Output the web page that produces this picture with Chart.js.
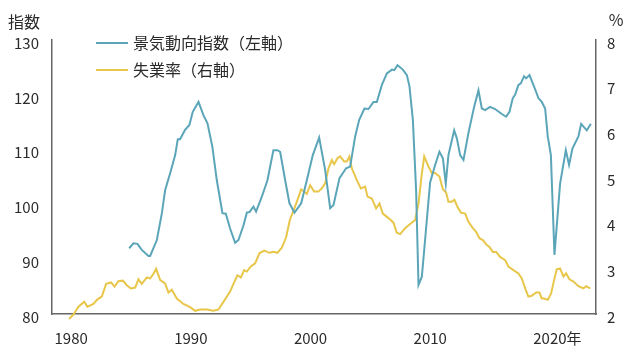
<!DOCTYPE html>
<html>
<head>
<meta charset="utf-8">
<script src="https://cdn.jsdelivr.net/npm/chart.js@4.4.0/dist/chart.umd.min.js"></script>
<style>
html,body{margin:0;padding:0;background:#fff;}
canvas{display:block;}
</style>
</head>
<body>
<canvas id="c" width="634" height="362"></canvas>
<script>
// ---- data ----
const ciYears = [1984.85,1985.2,1985.54,1985.9,1986.46,1986.6,1987.16,1987.58,1987.85,1988.27,1988.69,1988.91,1989.1,1989.52,1989.88,1990.16,1990.64,1991.05,1991.39,1991.8,1992.17,1992.64,1992.92,1993.28,1993.7,1993.98,1994.4,1994.68,1994.9,1995.23,1995.45,1995.93,1996.4,1996.9,1997.23,1997.46,1997.88,1998.24,1998.66,1999.22,1999.69,2000.19,2000.72,2001.22,2001.64,2001.92,2002.42,2002.97,2003.31,2003.73,2004.06,2004.5,2004.84,2005.26,2005.54,2005.96,2006.38,2006.8,2006.99,2007.27,2007.71,2008.05,2008.27,2008.55,2008.82,2009.02,2009.3,2009.57,2009.99,2010.41,2010.77,2011.06,2011.3,2011.52,2012.0,2012.22,2012.5,2012.78,2013.19,2013.67,2014.03,2014.31,2014.59,2015.0,2015.42,2015.98,2016.34,2016.62,2016.9,2017.09,2017.37,2017.57,2017.84,2018.01,2018.29,2018.62,2019.04,2019.32,2019.6,2019.82,2020.08,2020.38,2020.85,2021.33,2021.6,2021.88,2022.38,2022.61,2023.08,2023.42];
const ciValues = [92.0,92.9,92.8,91.7,90.6,90.6,93.5,98.4,102.6,105.7,109.0,111.9,111.9,113.6,114.5,116.9,118.7,116.3,114.8,110.5,104.4,98.4,98.3,95.6,93.0,93.5,96.2,98.5,98.6,99.6,98.7,101.4,104.4,109.9,109.9,109.6,104.4,100.2,98.5,100.2,104.4,109.0,112.2,106.3,99.3,99.9,104.8,106.6,106.9,112.4,115.4,117.5,117.4,118.7,118.7,121.8,123.9,124.6,124.5,125.4,124.6,123.6,121.5,115.4,102.6,85.3,86.8,93.5,104.0,107.2,109.6,108.4,103.8,109.0,113.5,112.1,109.0,108.1,113.0,117.8,120.8,117.5,117.2,117.8,117.4,116.5,116.0,116.9,119.4,120.0,121.8,122.1,123.4,123.0,123.6,121.8,119.4,118.7,117.5,112.4,109.0,90.8,103.8,109.9,107.2,110.2,112.4,114.7,113.5,114.7];

const urYears = [1979.83,1980.2,1980.61,1981.09,1981.36,1981.86,1982.2,1982.56,1982.92,1983.34,1983.62,1983.95,1984.32,1984.65,1984.99,1985.35,1985.62,1985.9,1986.32,1986.6,1986.88,1987.1,1987.44,1987.85,1988.13,1988.41,1988.83,1989.38,1989.94,1990.36,1990.78,1991.34,1991.89,1992.31,1992.73,1993.28,1993.7,1993.9,1994.18,1994.45,1994.68,1995.01,1995.37,1995.73,1996.12,1996.57,1996.9,1997.23,1997.6,1997.96,1998.27,1998.6,1998.91,1999.22,1999.69,1999.97,2000.3,2000.66,2000.94,2001.22,2001.5,2001.78,2001.97,2002.25,2002.47,2002.81,2003.03,2003.25,2003.45,2003.87,2004.2,2004.56,2004.76,2005.12,2005.48,2005.76,2006.04,2006.51,2006.93,2007.21,2007.49,2007.9,2008.32,2008.74,2009.02,2009.3,2009.5,2009.85,2010.13,2010.41,2010.77,2011.06,2011.33,2011.52,2011.8,2012.02,2012.27,2012.56,2012.92,2013.19,2013.56,2013.83,2014.11,2014.39,2014.73,2014.95,2015.23,2015.51,2015.84,2016.26,2016.53,2016.95,2017.37,2017.65,2017.93,2018.2,2018.48,2018.85,2019.12,2019.32,2019.52,2019.82,2020.1,2020.38,2020.57,2020.85,2021.13,2021.35,2021.63,2021.97,2022.38,2022.8,2023.02,2023.36];
const urValues = [1.89,1.99,2.16,2.27,2.16,2.22,2.32,2.38,2.66,2.69,2.60,2.72,2.73,2.63,2.56,2.58,2.76,2.66,2.80,2.78,2.88,2.99,2.74,2.67,2.47,2.53,2.34,2.22,2.15,2.07,2.10,2.10,2.07,2.10,2.27,2.49,2.74,2.85,2.80,2.96,2.93,3.04,3.11,3.33,3.39,3.34,3.36,3.34,3.45,3.68,4.06,4.28,4.50,4.73,4.63,4.82,4.68,4.68,4.75,4.86,5.19,5.37,5.28,5.41,5.45,5.34,5.34,5.45,5.19,4.93,4.75,4.79,4.57,4.53,4.31,4.42,4.20,4.10,4.00,3.78,3.75,3.88,3.97,4.06,4.42,5.08,5.45,5.23,5.09,5.09,5.01,4.73,4.66,4.46,4.46,4.50,4.35,4.22,4.20,4.02,3.88,3.80,3.66,3.62,3.51,3.47,3.36,3.36,3.25,3.18,3.04,2.96,2.89,2.78,2.56,2.38,2.40,2.47,2.47,2.34,2.34,2.31,2.45,2.78,2.98,3.00,2.82,2.89,2.76,2.71,2.61,2.56,2.61,2.56];

const seriesNames = ['景気動向指数（左軸）', '失業率（右軸）'];
const xTickYears = [1980, 1990, 2000, 2010, 2020];
const xTickLabels = ['1980', '1990', '2000', '2010', '\u30002020年'];
const leftTicks = [80, 90, 100, 110, 120, 130];
const rightTicks = [2, 3, 4, 5, 6, 7, 8];
const leftTitle = '指数';
const rightTitle = '%';

// ---- styles ----
const TEAL = '#5ba5b9';
const YELLOW = '#e8c64a';
const AXIS = '#666666';
const TEXT = '#2a2a2a';
const FONT = '"Noto Sans CJK JP", "Noto Sans", sans-serif';

const toPts = (xs, ys) => xs.map((x, i) => ({x: x, y: ys[i]}));

const overlay = {
  id: 'overlay',
  afterDraw(chart) {
    const ctx = chart.ctx;
    const a = chart.chartArea;
    ctx.save();
    ctx.fillStyle = TEXT;
    ctx.font = '16px ' + FONT;
    ctx.textBaseline = 'middle';
    ctx.textAlign = 'left';
    ctx.fillText(leftTitle, 8, 22);
    ctx.textAlign = 'center';
    ctx.fillText(rightTitle, 616, 20);
    // legend
    ctx.textAlign = 'left';
    chart.data.datasets.forEach((ds, i) => {
      const y = a.top + 3 + i * 27;
      ctx.strokeStyle = ds.borderColor;
      ctx.lineWidth = 2;
      ctx.beginPath();
      ctx.moveTo(a.left + 44, y);
      ctx.lineTo(a.left + 76, y);
      ctx.stroke();
      ctx.fillStyle = TEXT;
      ctx.fillText(ds.label, a.left + 81, y);
    });
    ctx.restore();
  }
};

new Chart(document.getElementById('c'), {
  type: 'line',
  data: {
    datasets: [
      {label: seriesNames[0], data: toPts(ciYears, ciValues), yAxisID: 'yL', borderColor: TEAL, borderWidth: 2, pointRadius: 0, tension: 0, fill: false},
      {label: seriesNames[1], data: toPts(urYears, urValues), yAxisID: 'yR', borderColor: YELLOW, borderWidth: 2, pointRadius: 0, tension: 0, fill: false, clip: false}
    ]
  },
  options: {
    responsive: false,
    devicePixelRatio: 1,
    animation: false,
    layout: {padding: {top: 40, left: 0, right: 0, bottom: 0}},
    plugins: {legend: {display: false}, tooltip: {enabled: false}, title: {display: false}},
    scales: {
      x: {
        type: 'linear', min: 1978.4, max: 2023.85,
        grid: {display: false, drawTicks: false, tickLength: 0},
        border: {display: true, color: AXIS, width: 1.5},
        afterBuildTicks: s => { s.ticks = xTickYears.map(v => ({value: v})); },
        afterFit: s => { s.height = 48; },
        ticks: {
          padding: 15, color: TEXT, font: {family: FONT, size: 15}, maxRotation: 0, autoSkip: false,
          callback: v => { const k = xTickYears.indexOf(v); return k >= 0 ? xTickLabels[k] : ''; }
        }
      },
      yL: {
        position: 'left', min: 80, max: 130,
        grid: {display: false, drawTicks: false, tickLength: 0},
        border: {display: true, color: AXIS, width: 1.5},
        afterBuildTicks: s => { s.ticks = leftTicks.map(v => ({value: v})); },
        afterFit: s => { s.width = 52; },
        ticks: {padding: 13, labelOffset: 3, color: TEXT, font: {family: FONT, size: 15}}
      },
      yR: {
        position: 'right', min: 2, max: 8,
        grid: {display: false, drawTicks: false, tickLength: 0},
        border: {display: true, color: AXIS, width: 1.5},
        afterBuildTicks: s => { s.ticks = rightTicks.map(v => ({value: v})); },
        afterFit: s => { s.width = 38; },
        ticks: {padding: 11, labelOffset: 3, color: TEXT, font: {family: FONT, size: 15}}
      }
    }
  },
  plugins: [overlay]
});
</script>
</body>
</html>
